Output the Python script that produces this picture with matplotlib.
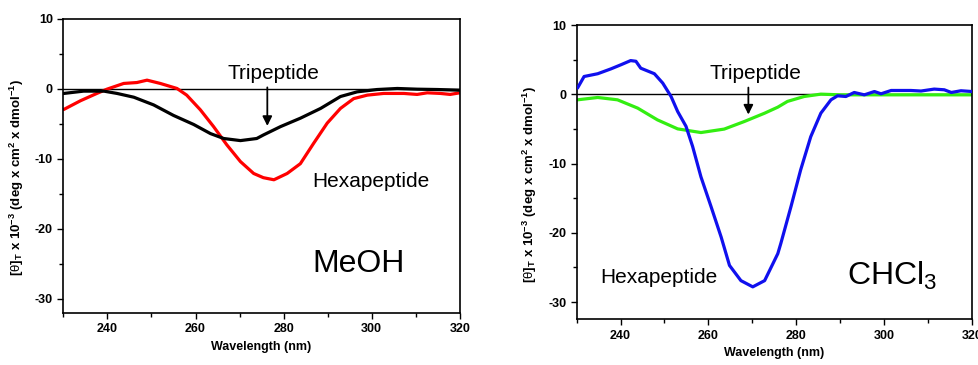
import matplotlib.pyplot as plt
import numpy as np

plt.rcParams['font.family'] = ['Liberation Sans', 'DejaVu Sans']
plt.rcParams['axes.unicode_minus'] = False
plt.rcParams['mathtext.fontset'] = 'custom'
plt.rcParams['mathtext.rm'] = 'Liberation Sans'
plt.rcParams['mathtext.it'] = 'Liberation Sans:italic'
plt.rcParams['mathtext.bf'] = 'Liberation Sans:bold'
plt.rcParams['lines.solid_joinstyle'] = 'round'
plt.rcParams['lines.solid_capstyle'] = 'round'

# MeOH panel
tri_meoh_x = [230.1, 234.6, 239.2, 242.2, 246, 250.5, 255, 259.6, 263.4, 266.4, 270.2, 273.9,
              275.4, 279.3, 283.8, 288.4, 292.9, 296.7, 301.2, 305.8, 310.3, 315, 320]
tri_meoh_y = [-0.66, -0.33, -0.33, -0.66, -1.2, -2.3, -3.8, -5.1, -6.4, -7.1, -7.4, -7.1,
              -6.6, -5.4, -4.2, -2.8, -1.1, -0.43, -0.1, 0.05, -0.05, -0.1, -0.2]

hexa_meoh_x = [230.1, 233.9, 237.6, 239.9, 243.7, 246.7, 249, 252, 255.8, 258, 261.1, 264.1,
               267.1, 270.2, 273.2, 275.4, 277.8, 280.8, 283.8, 286.8, 289.9, 292.9, 295.9,
               299, 302.7, 307.3, 310.3, 312.6, 315.6, 317.8, 320]
hexa_meoh_y = [-2.95, -1.7, -0.66, -0.05, 0.77, 0.9, 1.24, 0.77, 0.05, -0.9, -3.0, -5.4,
               -8.0, -10.4, -12.1, -12.7, -13.0, -12.1, -10.7, -7.8, -4.9, -2.8, -1.4,
               -0.9, -0.66, -0.66, -0.8, -0.57, -0.66, -0.8, -0.57]

# CHCl3 panel
tri_chcl3_x = [230.2, 234.8, 239.3, 243.9, 248.4, 253, 258.3, 263.6, 268.2, 272.8, 275.8,
               278, 281.8, 285.6, 290, 300, 310, 320]
tri_chcl3_y = [-0.77, -0.43, -0.77, -1.97, -3.67, -4.97, -5.5, -5.0, -3.9, -2.7, -1.83,
               -1.0, -0.29, 0.05, -0.05, -0.05, -0.05, -0.05]

hexa_chcl3_x = [230.2, 231.7, 234.8, 237.8, 240.1, 242.3, 243.5, 244.6, 247.7, 249.6, 251.5,
                253, 254.9, 256.4, 258.3, 260.6, 262.9, 264.8, 267.4, 270.1, 272.8, 275.8,
                276.5, 278.8, 281, 283.3, 285.6, 287.9, 289.4, 291.3, 293.2, 295.5, 297.8,
                299.3, 301.6, 306.1, 308.4, 311.4, 313.7, 315.3, 317.5, 320]
hexa_chcl3_y = [0.93, 2.6, 3.0, 3.7, 4.3, 4.9, 4.8, 3.8, 3.0, 1.65, -0.29,
                -2.46, -4.6, -7.5, -11.9, -16.2, -20.6, -24.7, -26.9, -27.8, -26.9, -23.0,
                -21.5, -16.2, -10.9, -6.1, -2.7, -0.77, -0.19, -0.29, 0.29, -0.05, 0.43,
                0.1, 0.58, 0.58, 0.5, 0.78, 0.68, 0.29, 0.54, 0.43]

ylabel = (r'[$\mathrm{\theta}$]$_\mathbf{T}$ x 10$^\mathbf{-3}$ '
          r'(deg x cm$^\mathbf{2}$ x dmol$^\mathbf{-1}$)')


def style_axes(ax, ylim):
    ax.set_xlim(230, 320)
    ax.set_ylim(*ylim)
    ax.set_xticks([240, 260, 280, 300, 320])
    ax.set_xticks(np.arange(230, 321, 10), minor=True)
    ax.set_yticks([-30, -20, -10, 0, 10])
    ax.set_yticks(np.arange(-30, 11, 5), minor=True)
    ax.tick_params(which='both', direction='out', top=False, right=False,
                   labelsize=9, width=1)
    ax.tick_params(which='major', length=4)
    ax.tick_params(which='minor', length=3)
    for lab in ax.get_xticklabels() + ax.get_yticklabels():
        lab.set_fontweight('bold')
    for sp in ax.spines.values():
        sp.set_linewidth(1.2)
    ax.axhline(0, color='black', linewidth=1.0, zorder=1)
    ax.set_xlabel('Wavelength (nm)', fontsize=9, fontweight='bold', labelpad=4)
    ax.set_ylabel(ylabel, fontsize=9.5, fontweight='bold')
    ax.yaxis.set_label_coords(-0.095, 0.46)


fig = plt.figure(figsize=(9.79, 3.65), dpi=100)

ax1 = fig.add_axes([0.0647, 0.1433, 0.405, 0.805])
style_axes(ax1, (-32, 10))
ax1.plot(tri_meoh_x, tri_meoh_y, color='black', linewidth=2.3, zorder=3)
ax1.plot(hexa_meoh_x, hexa_meoh_y, color='#ff0000', linewidth=2.3, zorder=2)
ax1.text(277.8, 2.2, 'Tripeptide', fontsize=15, ha='center', va='center')
ax1.annotate('', xy=(276.3, -5.7), xytext=(276.3, 0.6),
             arrowprops=dict(arrowstyle='-|>', color='black', lw=1.3,
                             mutation_scale=14))
ax1.text(286.5, -13.3, 'Hexapeptide', fontsize=15, ha='left', va='center')
ax1.text(286.5, -25, 'MeOH', fontsize=23, ha='left', va='center')

ax2 = fig.add_axes([0.589, 0.125, 0.4038, 0.8057])
style_axes(ax2, (-32.5, 10))
ax2.plot(tri_chcl3_x, tri_chcl3_y, color='#33ee11', linewidth=2.3, zorder=2)
ax2.plot(hexa_chcl3_x, hexa_chcl3_y, color='#1010ee', linewidth=2.3, zorder=3)
ax2.text(270.8, 3.1, 'Tripeptide', fontsize=15, ha='center', va='center')
ax2.annotate('', xy=(269.1, -3.3), xytext=(269.1, 1.4),
             arrowprops=dict(arrowstyle='-|>', color='black', lw=1.3,
                             mutation_scale=14))
ax2.text(235.4, -26.5, 'Hexapeptide', fontsize=15, ha='left', va='center')
ax2.text(291.5, -26.2, r'CHCl$_\mathrm{3}$', fontsize=23, ha='left', va='center')

fig.savefig('out.png', dpi=100, facecolor='white')
